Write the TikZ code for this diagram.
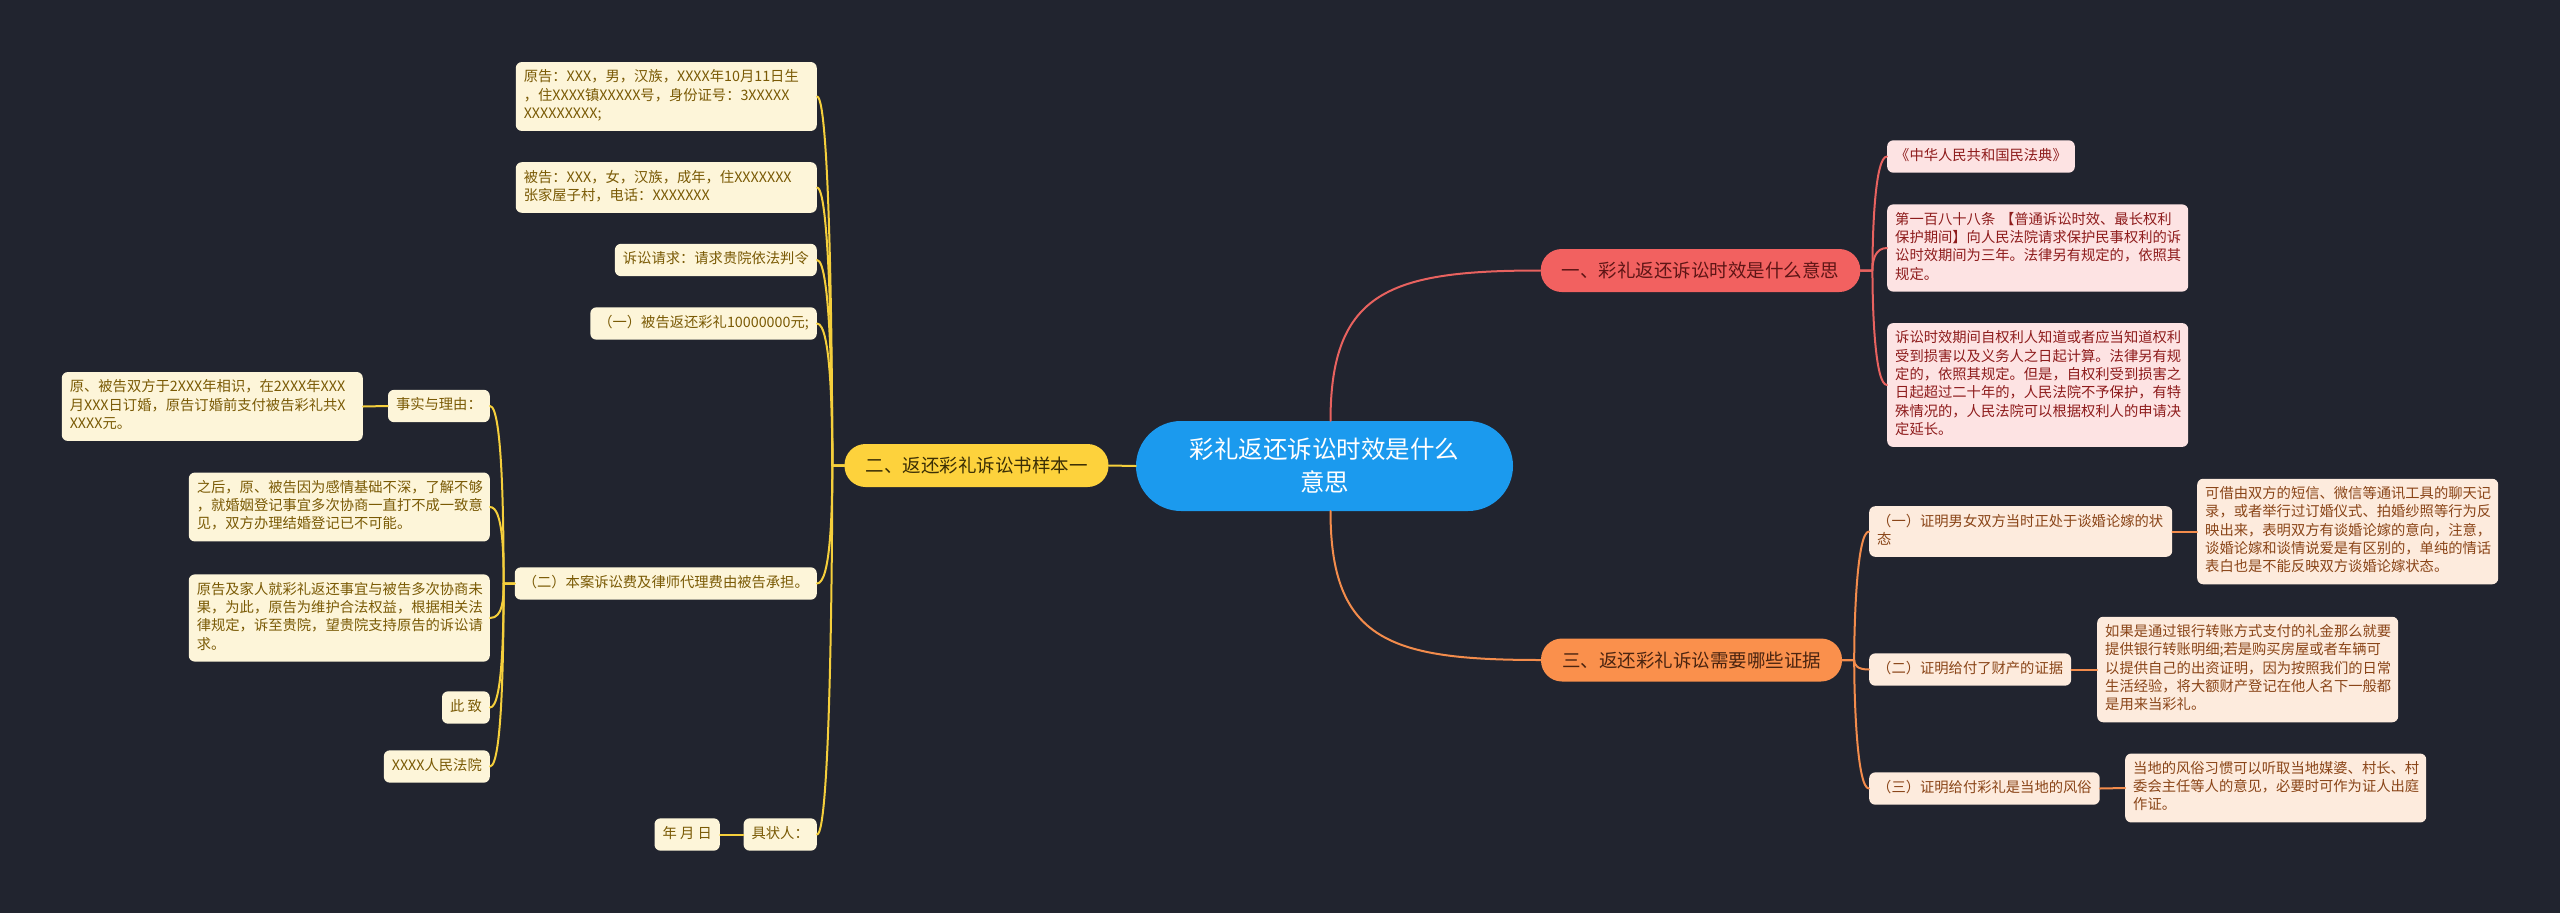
\documentclass[tikz,border=0pt]{standalone}
\usepackage{fontspec}
\setmainfont{Noto Sans CJK SC}
\usetikzlibrary{calc}
\definecolor{caiBack}{HTML}{21242F}
\definecolor{caiBlue}{HTML}{1B9AEE}
\definecolor{caiRed}{HTML}{F26160}
\definecolor{caiRedInk}{HTML}{5E1515}
\definecolor{caiRedSoft}{HTML}{FDE3E3}
\definecolor{caiRedText}{HTML}{8E1C1C}
\definecolor{caiRedLine}{HTML}{E8625F}
\definecolor{caiGold}{HTML}{FDD23C}
\definecolor{caiGoldInk}{HTML}{3A2E05}
\definecolor{caiGoldSoft}{HTML}{FDF5D9}
\definecolor{caiGoldText}{HTML}{7A5A05}
\definecolor{caiGoldLine}{HTML}{F5CF3C}
\definecolor{caiOrange}{HTML}{FA904C}
\definecolor{caiOrangeInk}{HTML}{4A2410}
\definecolor{caiOrangeSoft}{HTML}{FDEBDD}
\definecolor{caiOrangeText}{HTML}{8A4518}
\definecolor{caiOrangeLine}{HTML}{F38C4C}

\begin{document}
\begin{tikzpicture}[x=1pt,y=-1pt,line cap=round,line join=round]
\path[fill=caiBack] (0,0) rectangle (2560,913);
\tikzset{hub/.style={fill=caiBlue,text=white,rounded corners=45pt,minimum width=377pt,minimum height=90pt,align=center,font=\fontsize{24.5}{33}\selectfont},
  branch/.style={rounded corners=21pt,inner xsep=21pt,minimum height=43pt,font=\fontsize{18.5}{22}\selectfont},
  leaf/.style={rounded corners=6pt,inner xsep=8pt,inner ysep=7pt,align=left,font=\fontsize{14.3}{18.3}\selectfont,execute at begin node=\strut,execute at end node=\strut},
  wide/.style={text width=285pt},
  yleaf/.style={leaf,fill=caiGoldSoft,text=caiGoldText},
  rleaf/.style={leaf,fill=caiRedSoft,text=caiRedText},
  oleaf/.style={leaf,fill=caiOrangeSoft,text=caiOrangeText},
  ylink/.style={draw=caiGoldLine,line width=2pt},
  rlink/.style={draw=caiRedLine,line width=2pt},
  olink/.style={draw=caiOrangeLine,line width=2pt}}

% centre and main branches
\node[hub] (C) at (1324.5,466) {彩礼返还诉讼时效是什么\\意思};
\node[branch,fill=caiRed,text=caiRedInk] (R) at (1700.5,270.5) {一、彩礼返还诉讼时效是什么意思};
\node[branch,fill=caiGold,text=caiGoldInk] (Y) at (976.5,465.5) {二、返还彩礼诉讼书样本一};
\node[branch,fill=caiOrange,text=caiOrangeInk] (O) at (1691.5,660) {三、返还彩礼诉讼需要哪些证据};

% branch one
\node[rleaf,anchor=west] (rA) at (1887,156.5) {《中华人民共和国民法典》};
\node[rleaf,wide,anchor=west] (rB) at (1887,248) {第一百八十八条~【普通诉讼时效、最长权利\\保护期间】向人民法院请求保护民事权利的诉\\讼时效期间为三年。法律另有规定的，依照其\\规定。};
\node[rleaf,wide,anchor=west] (rC) at (1887,385) {诉讼时效期间自权利人知道或者应当知道权利\\受到损害以及义务人之日起计算。法律另有规\\定的，依照其规定。但是，自权利受到损害之\\日起超过二十年的，人民法院不予保护，有特\\殊情况的，人民法院可以根据权利人的申请决\\定延长。};

% branch two
\node[yleaf,wide,anchor=east] (yA) at (817,96.5) {原告：XXX，男，汉族，XXXX年10月11日生\\，住XXXX镇XXXXX号，身份证号：3XXXXX\\XXXXXXXXX;};
\node[yleaf,wide,anchor=east] (yB) at (817,187.5) {被告：XXX，女，汉族，成年，住XXXXXXX\\张家屋子村，电话：XXXXXXX};
\node[yleaf,anchor=east] (yC) at (817,260) {诉讼请求：请求贵院依法判令};
\node[yleaf,anchor=east] (yD) at (817,323.5) {（一）被告返还彩礼10000000元;};
\node[yleaf,anchor=east] (yE) at (817,583.5) {（二）本案诉讼费及律师代理费由被告承担。};
\node[yleaf,anchor=east] (yF) at (817,834.5) {具状人：};
\node[yleaf,anchor=east] (yF1) at (720,834.5) {年 月 日};
\node[yleaf,anchor=east] (yE1) at (490,406) {事实与理由：};
\node[yleaf,wide,anchor=east] (yE1a) at (363,406.5) {原、被告双方于2XXX年相识，在2XXX年XXX\\月XXX日订婚，原告订婚前支付被告彩礼共X\\XXXX元。};
\node[yleaf,wide,anchor=east] (yE2) at (490,507) {之后，原、被告因为感情基础不深，了解不够\\，就婚姻登记事宜多次协商一直打不成一致意\\见，双方办理结婚登记已不可能。};
\node[yleaf,wide,anchor=east] (yE3) at (490,618) {原告及家人就彩礼返还事宜与被告多次协商未\\果，为此，原告为维护合法权益，根据相关法\\律规定，诉至贵院，望贵院支持原告的诉讼请\\求。};
\node[yleaf,anchor=east] (yE4) at (490,707.5) {此 致};
\node[yleaf,anchor=east] (yE5) at (490,766.5) {XXXX人民法院};

% branch three
\node[oleaf,text width=287pt,anchor=west] (oA) at (1869,531.5) {（一）证明男女双方当时正处于谈婚论嫁的状\\态};
\node[oleaf,anchor=west] (oB) at (1869,669.5) {（二）证明给付了财产的证据};
\node[oleaf,anchor=west] (oC) at (1869,788.5) {（三）证明给付彩礼是当地的风俗};
\node[oleaf,wide,anchor=west] (oA1) at (2197,531.5) {可借由双方的短信、微信等通讯工具的聊天记\\录，或者举行过订婚仪式、拍婚纱照等行为反\\映出来，表明双方有谈婚论嫁的意向，注意，\\谈婚论嫁和谈情说爱是有区别的，单纯的情话\\表白也是不能反映双方谈婚论嫁状态。};
\node[oleaf,wide,anchor=west] (oB1) at (2097,669.5) {如果是通过银行转账方式支付的礼金那么就要\\提供银行转账明细;若是购买房屋或者车辆可\\以提供自己的出资证明，因为按照我们的日常\\生活经验，将大额财产登记在他人名下一般都\\是用来当彩礼。};
\node[oleaf,wide,anchor=west] (oC1) at (2125,788) {当地的风俗习惯可以听取当地媒婆、村长、村\\委会主任等人的意见，必要时可作为证人出庭\\作证。};

% connectors
\draw[rlink] ($(C.north)+(6,0)$) .. controls +(0,-130) and +(-150,0) .. (R.west);
\draw[olink] ($(C.south)+(6,0)$) .. controls +(0,130) and +(-150,0) .. (O.west);
\draw[ylink] (C.west) -- (Y.east);
\draw[rlink] (R.east) -- ++(12,0) .. controls +(0,-40) and +(-12,0) .. (rA.west); \draw[rlink] (R.east) -- ++(12,0) .. controls +(0,-10) and +(-12,0) .. (rB.west); \draw[rlink] (R.east) -- ++(12,0) .. controls +(0,40) and +(-12,0) .. (rC.west);
\draw[ylink] (Y.west) -- ++(-12,0) .. controls +(0,-60) and +(14,0) .. (yA.east); \draw[ylink] (Y.west) -- ++(-12,0) .. controls +(0,-60) and +(14,0) .. (yB.east); \draw[ylink] (Y.west) -- ++(-12,0) .. controls +(0,-60) and +(14,0) .. (yC.east);
\draw[ylink] (Y.west) -- ++(-12,0) .. controls +(0,-50) and +(14,0) .. (yD.east); \draw[ylink] (Y.west) -- ++(-12,0) .. controls +(0,40) and +(14,0) .. (yE.east); \draw[ylink] (Y.west) -- ++(-12,0) .. controls +(0,60) and +(14,0) .. (yF.east);
\draw[ylink] (yF.west) -- (yF1.east); \draw[ylink] (yE1.west) -- (yE1a.east);
\draw[ylink] (yE.west) -- ++(-11,0) .. controls +(0,-50) and +(13,0) .. (yE1.east); \draw[ylink] (yE.west) -- ++(-11,0) .. controls +(0,-30) and +(13,0) .. (yE2.east); \draw[ylink] (yE.west) -- ++(-11,0) .. controls +(0,15) and +(13,0) .. (yE3.east);
\draw[ylink] (yE.west) -- ++(-11,0) .. controls +(0,40) and +(13,0) .. (yE4.east); \draw[ylink] (yE.west) -- ++(-11,0) .. controls +(0,50) and +(13,0) .. (yE5.east);
\draw[olink] (O.east) -- ++(12,0) .. controls +(0,-40) and +(-12,0) .. (oA.west); \draw[olink] (O.east) -- ++(12,0) .. controls +(0,5) and +(-12,0) .. (oB.west); \draw[olink] (O.east) -- ++(12,0) .. controls +(0,40) and +(-12,0) .. (oC.west);
\draw[olink] (oA.east) -- (oA1.west); \draw[olink] (oB.east) -- (oB1.west); \draw[olink] (oC.east) -- (oC1.west);
\end{tikzpicture}
\end{document}
